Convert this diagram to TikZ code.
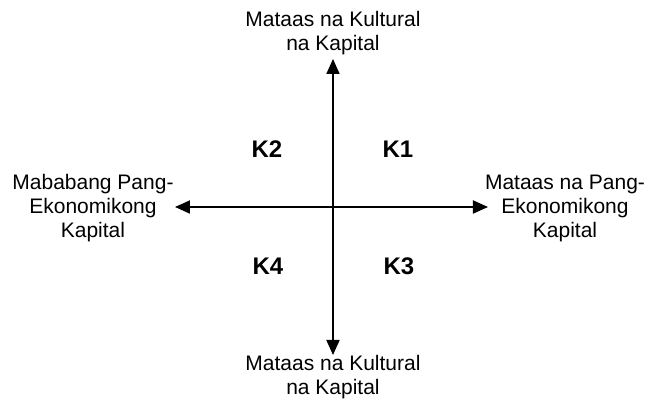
\documentclass[tikz,border=0pt]{standalone}
\usepackage{fontspec}
\setmainfont{Liberation Sans}
\usetikzlibrary{arrows.meta,positioning}

\begin{document}
\begin{tikzpicture}[
    x=1pt, y=1pt,
    axislabel/.style={align=center, inner sep=0pt,
        font=\fontsize{21}{24}\selectfont},
    quadlabel/.style={inner sep=0pt, font=\fontsize{24}{28}\selectfont\bfseries},
    axis/.style={{Triangle[length=15pt,width=13pt]}-{Triangle[length=15pt,width=13pt]},
        line width=1.8pt, black}
]
    \useasboundingbox (-333,-196) rectangle (313,207);

    \coordinate (west) at (-158,0);
    \coordinate (east) at (155,0);
    \coordinate (north) at (0,148);
    \coordinate (south) at (0,-148);

    \node[axislabel] (cultop) at (0,174) {Mataas na Kultural\\na Kapital};
    \node[axislabel] (culbot) at (0,-170) {Mataas na Kultural\\na Kapital};
    \node[axislabel] (ecolow) at (-240,-1) {Mababang Pang-\\Ekonomikong\\Kapital};
    \node[axislabel] (ecohigh) at (232,-1) {Mataas na Pang-\\Ekonomikong\\Kapital};

    \node[quadlabel] (kone) at (65,58) {K1};
    \node[quadlabel] (ktwo) at (-66,58) {K2};
    \node[quadlabel] (kthree) at (66,-59) {K3};
    \node[quadlabel] (kfour) at (-65,-59) {K4};

    \draw[axis] (west) -- (east);
    \draw[axis] (south) -- (north);
\end{tikzpicture}
\end{document}
